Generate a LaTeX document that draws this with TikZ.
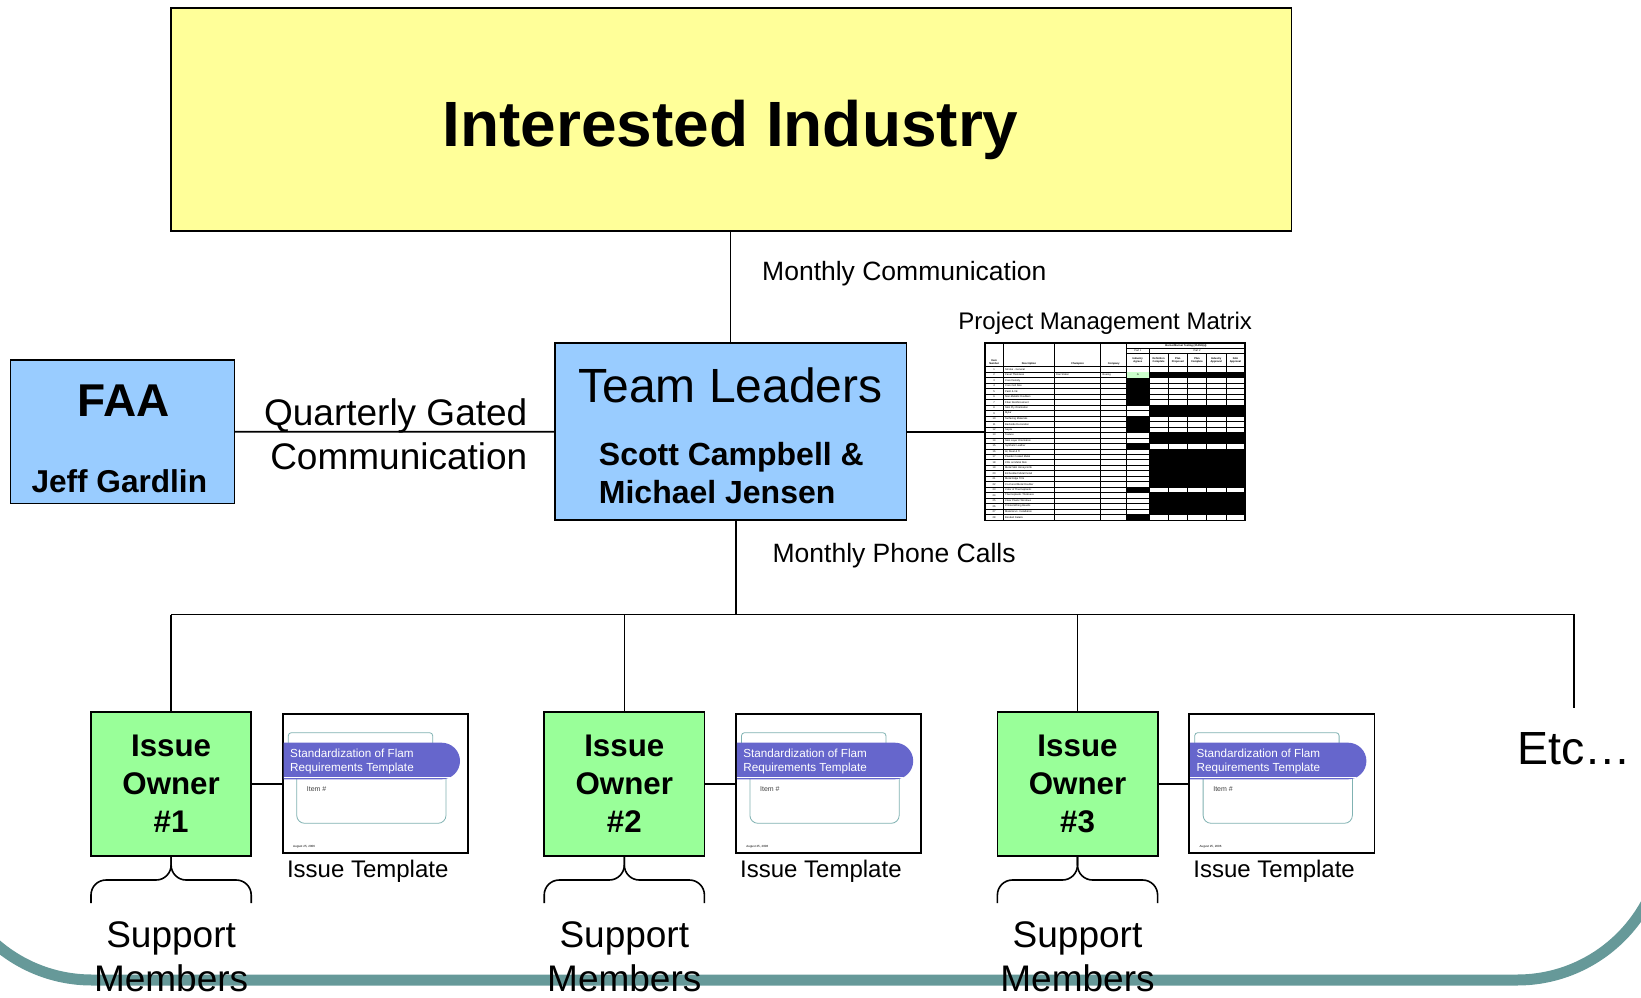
\documentclass[tikz,border=0pt]{standalone}
\usepackage{fontspec}
\setmainfont{Liberation Sans}

\definecolor{industryfill}{RGB}{255,255,153}
\definecolor{leaderfill}{RGB}{153,204,255}
\definecolor{ownerfill}{RGB}{153,255,153}
\definecolor{bannerfill}{RGB}{102,102,204}
\definecolor{framecolor}{RGB}{102,153,153}
\definecolor{slideline}{RGB}{128,178,178}
\definecolor{agreegreen}{RGB}{204,255,204}

\tikzset{
  box/.style={draw, line width=1.8pt, inner sep=0pt, outer sep=0pt},
  link/.style={line width=1.6pt},
  brace/.style={line width=1.6pt, rounded corners=15pt},
  cell/.style={inner sep=0pt, font=\fontsize{2.6}{3.1}\selectfont}
}

\begin{document}
\begin{tikzpicture}[x=1pt, y=-1pt]
\def\headfont{\fontsize{64}{76}\selectfont\bfseries}
\def\leadfont{\fontsize{48}{58}\selectfont}
\def\namefont{\fontsize{32}{37.7}\selectfont\bfseries}
\def\linkfont{\fontsize{37}{44}\selectfont}
\def\notefont{\fontsize{26.5}{32}\selectfont}
\def\ownerfont{\fontsize{31.3}{37.65}\selectfont\bfseries}
\def\capfont{\fontsize{24}{29}\selectfont}
\def\supportfont{\fontsize{37}{44}\selectfont}

\def\issueslide#1{
\begin{scope}[shift={(282.7,714)}]
\draw [slideline, line width=0.8pt, rounded corners=3pt] (5.6,18.7) rectangle (150,40);
\draw [slideline, line width=0.8pt, rounded corners=8pt] (14,55) rectangle (163.3,109.3);
\fill [bannerfill] (0.9,28.7) -- (159,28.7) arc [start angle=-90, end angle=90, radius=18.3] -- (0.9,65.3) -- cycle;
\draw [white, line width=0.8pt] (0.9,63) -- (167,63);
\node [anchor=base west, inner sep=0pt, text=white] (slidetitle#1) at (7.3,43) {\fontsize{11.7}{14}\selectfont Standardization of Flam};
\node [anchor=base west, inner sep=0pt, text=white] (slidesub#1) at (7.3,57) {\fontsize{11.7}{14}\selectfont Requirements Template};
\node [anchor=base west, inner sep=0pt, text=black!75] (slideitem#1) at (24,77.5) {\fontsize{7}{8}\selectfont Item \#};
\node [anchor=base west, inner sep=0pt] (slidedate#1) at (10.3,133) {\fontsize{3}{4}\selectfont August 25, 2006};
\end{scope}}

\useasboundingbox (0,0) rectangle (1641,998);
\clip (0,0) rectangle (1641,998);

\draw [line width=11pt, framecolor] (-55,700) -- (-55,833) arc [start angle=180, end angle=90, radius=147] -- (1517,980) arc [start angle=90, end angle=0, radius=147] -- (1664,700);

\node [box, fill=industryfill, minimum width=1120.9pt, minimum height=222.9pt] (industry) at (731.05,119.85) {};
\node [anchor=base, inner sep=0pt] (industrytitle) at (730.5,146.5) {\headfont Interested Industry};

\node [box, fill=leaderfill, minimum width=351.7pt, minimum height=176.9pt] (leaders) at (730.55,431.75) {};
\node [anchor=base, inner sep=0pt] (leaderstitle) at (730.5,402.3) {\leadfont Team Leaders};
\node [anchor=west, align=left, inner sep=0pt, font=\namefont] (leadersnames) at (598.7,472.9) {Scott Campbell \&\\Michael Jensen};

\node [box, fill=leaderfill, minimum width=223.9pt, minimum height=143.4pt] (faa) at (122.45,431.7) {};
\node [anchor=base, inner sep=0pt] (faatitle) at (123.5,416.2) {\fontsize{46}{55}\selectfont\bfseries FAA};
\node [anchor=base, inner sep=0pt] (faaname) at (119.3,492.7) {\fontsize{31.6}{38}\selectfont\bfseries Jeff Gardlin};

\node [box, fill=white, minimum width=260pt, minimum height=177.5pt] (pmm) at (1115,431.75) {};
\node [anchor=base, inner sep=0pt] (pmmtitle) at (1105.2,329.9) {\capfont Project Management Matrix};

\draw [link] (leaders.north |- industry.south) -- (leaders.north);
\node [anchor=base west, inner sep=0pt] (monthlycomm) at (762,280.5) {\notefont Monthly Communication};
\draw [link] (faa.east) -- (leaders.west);
\node [anchor=east, align=right, inner sep=0pt, font=\linkfont] (quarterly) at (527.5,434.1) {Quarterly Gated\\Communication};
\draw [link] (leaders.east) -- (pmm.west);

\begin{scope}[shift={(985,343)}]
\foreach \k in {0,...,27}
  \draw [line width=0.5pt] (0,{23.7+\k*5.47}) -- (260,{23.7+\k*5.47});
\draw [line width=0.5pt] (18.3,0) -- (18.3,176.9) (69.3,0) -- (69.3,176.9)
  (115.7,0) -- (115.7,176.9) (141.7,0) -- (141.7,176.9)
  (164,5.3) -- (164,176.9) (183.2,10.3) -- (183.2,176.9) (202.4,10.3) -- (202.4,176.9)
  (221.6,10.3) -- (221.6,176.9) (240.8,10.3) -- (240.8,176.9)
  (141.7,5.3) -- (260,5.3) (141.7,10.3) -- (260,10.3);
\fill [agreegreen] (141.7,29.17) rectangle (164,34.64);
\fill (141.7,34.64) rectangle (164,61.99);
\fill (141.7,72.93) rectangle (164,89.34);
\fill (141.7,100.28) rectangle (164,105.75);
\fill (141.7,144.04) rectangle (164,149.51);
\fill (141.7,171.39) rectangle (164,176.86);
\fill (164,29.17) rectangle (260,34.64);
\fill (164,61.99) rectangle (260,72.93);
\fill (164,89.34) rectangle (260,100.28);
\fill (164,105.75) rectangle (260,144.04);
\fill (164,149.51) rectangle (260,171.39);

\node [cell, align=center, font=\fontsize{2.6}{3.1}\selectfont\bfseries] (hdritem) at (9.15,19) {Item\\Number};
\node [cell, font=\fontsize{2.6}{3.1}\selectfont\bfseries] (hdrdesc) at (44,21) {Description};
\node [cell, font=\fontsize{2.6}{3.1}\selectfont\bfseries] (hdrchamp) at (92.5,21) {Champion};
\node [cell, font=\fontsize{2.6}{3.1}\selectfont\bfseries] (hdrcomp) at (128.7,21) {Company};
\node [cell, font=\fontsize{2.6}{3.1}\selectfont\bfseries] (hdrtest) at (201,2.8) {Burner/Burner Testing (25.853(a))};
\node [cell] (hdrpart1) at (152.8,7.9) {Part 1};
\node [cell] (hdrpart2) at (212,7.9) {Part 2};
\node [cell, align=center, font=\fontsize{2.6}{3.1}\selectfont\bfseries] (hdragree) at (152.8,17) {Industry\\Agrees};
\node [cell, align=center, font=\fontsize{2.6}{3.1}\selectfont\bfseries] (hdrdef) at (173.6,17) {Definition\\Complete};
\node [cell, align=center, font=\fontsize{2.6}{3.1}\selectfont\bfseries] (hdrprop) at (192.8,17) {Plan\\Proposed};
\node [cell, align=center, font=\fontsize{2.6}{3.1}\selectfont\bfseries] (hdrplan) at (212,17) {Plan\\Complete};
\node [cell, align=center, font=\fontsize{2.6}{3.1}\selectfont\bfseries] (hdrindapp) at (231.2,17) {Industry\\Approval};
\node [cell, align=center, font=\fontsize{2.6}{3.1}\selectfont\bfseries] (hdrfaaapp) at (250.4,17) {FAA\\Approval};
\foreach \k/\desc in {1/Smoke - General, 2/Panel Thickness, 3/Core Density, 4/Core Cell Size,
  5/Paint \& Ink, 6/Non-Metallic Doublers, 7/Fiber Reinforcement/Cloth, 8/Skin Ply Orientation,
  9/Mylar, 10/Surfacing Materials, 11/Backside Decoration, 12/Septa, 13/Texture,
  14/Skin Layer Orientation, 15/Synthetic Leather, 16/{Al, Steel \& Ti}, 17/Powder Coated Metal,
  18/CRL on Metal Skin, 19/Metal Skin Honeycomb/Foam, 20/Embedded Metal Detail,
  21/Metal Edge Trim, 22/Co-Cured Metal Doubler, 23/Color of Thermoplastic,
  24/Thermoplastic Thickness, 25/Clear Plastic Windows/Signs, 26/Printed Wiring Boards,
  27/Material vs. Installation, 28/Bonded Details}
{
  \node [cell] (item\k) at (9.15,{23.7+(\k-0.5)*5.47}) {\k};
  \node [cell, anchor=west] (desc\k) at (20,{23.7+(\k-0.5)*5.47}) {\desc};
}
\node [cell, anchor=west] (champ2) at (71,32) {Dan Slaton};
\node [cell, anchor=west] (comp2) at (117.5,32) {Boeing};
\node [cell] (agree2) at (152.8,32) {G};
\end{scope}

\coordinate (bus) at (735.8,614.5);
\draw [link] (leaders.south -| bus) -- (bus);
\node [anchor=base west, inner sep=0pt] (phonecalls) at (772.4,562) {\notefont Monthly Phone Calls};

\begin{scope}[shift={(0,0)}]
\node [box, fill=ownerfill, minimum width=160.2pt, minimum height=144.3pt, align=center, font=\ownerfont] (owner1) at (171.1,783.85) {Issue\\Owner\\\#1};
\node [box, fill=white, minimum width=185.3pt, minimum height=139pt] (template1) at (375.35,783.5) {};
\issueslide{1}
\node [anchor=base west, inner sep=0pt] (templatecap1) at (286.8,877) {\capfont Issue Template};
\draw [link] (owner1.east) -- (owner1.east -| template1.west);
\draw [brace] (171.1,856) -- (171.1,880) -- (91,880) -- (91,903);
\draw [brace] (171.1,856) -- (171.1,880) -- (251.2,880) -- (251.2,903);
\node [align=center, inner sep=0pt, font=\supportfont] (support1) at (171.1,957) {Support\\Members};
\end{scope}

\begin{scope}[shift={(453.2,0)}]
\node [box, fill=ownerfill, minimum width=160.2pt, minimum height=144.3pt, align=center, font=\ownerfont] (owner2) at (171.1,783.85) {Issue\\Owner\\\#2};
\node [box, fill=white, minimum width=185.3pt, minimum height=139pt] (template2) at (375.35,783.5) {};
\issueslide{2}
\node [anchor=base west, inner sep=0pt] (templatecap2) at (286.8,877) {\capfont Issue Template};
\draw [link] (owner2.east) -- (owner2.east -| template2.west);
\draw [brace] (171.1,856) -- (171.1,880) -- (91,880) -- (91,903);
\draw [brace] (171.1,856) -- (171.1,880) -- (251.2,880) -- (251.2,903);
\node [align=center, inner sep=0pt, font=\supportfont] (support2) at (171.1,957) {Support\\Members};
\end{scope}

\begin{scope}[shift={(906.4,0)}]
\node [box, fill=ownerfill, minimum width=160.2pt, minimum height=144.3pt, align=center, font=\ownerfont] (owner3) at (171.1,783.85) {Issue\\Owner\\\#3};
\node [box, fill=white, minimum width=185.3pt, minimum height=139pt] (template3) at (375.35,783.5) {};
\issueslide{3}
\node [anchor=base west, inner sep=0pt] (templatecap3) at (286.8,877) {\capfont Issue Template};
\draw [link] (owner3.east) -- (owner3.east -| template3.west);
\draw [brace] (171.1,856) -- (171.1,880) -- (91,880) -- (91,903);
\draw [brace] (171.1,856) -- (171.1,880) -- (251.2,880) -- (251.2,903);
\node [align=center, inner sep=0pt, font=\supportfont] (support3) at (171.1,957) {Support\\Members};
\end{scope}

\coordinate (etctop) at (1574,614.5);
\coordinate (etcend) at (1574,708);
\draw [link] (owner1.north |- bus) -- (etctop) -- (etcend);
\draw [link] (owner1.north |- bus) -- (owner1.north);
\draw [link] (owner2.north |- bus) -- (owner2.north);
\draw [link] (owner3.north |- bus) -- (owner3.north);
\node [anchor=base west, inner sep=0pt] (etc) at (1517,764.3) {\fontsize{46.5}{56}\selectfont Etc…};

\end{tikzpicture}
\end{document}
